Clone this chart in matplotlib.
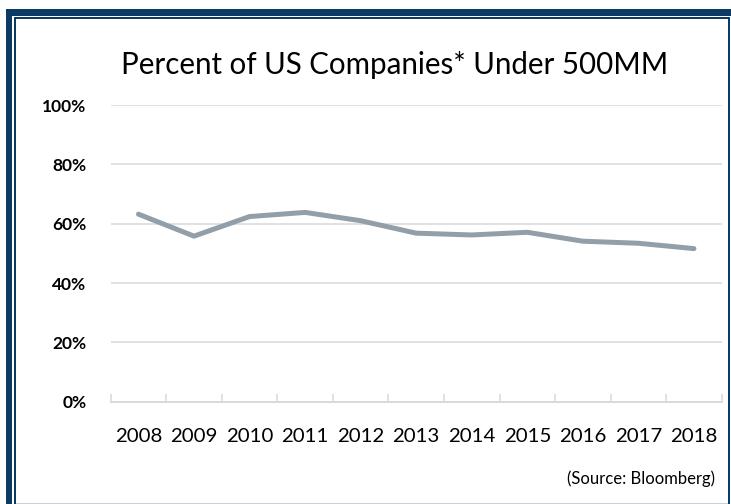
import matplotlib
matplotlib.use("Agg")
import matplotlib.pyplot as plt
from matplotlib.patches import Rectangle
from matplotlib.ticker import FixedLocator, PercentFormatter

years = ["2008", "2009", "2010", "2011", "2012", "2013", "2014", "2015", "2016", "2017", "2018"]
pct = [63.2, 55.8, 62.4, 63.8, 61.0, 56.8, 56.2, 57.1, 54.1, 53.4, 51.6]
yticks = [0, 20, 40, 60, 80, 100]
title = "Percent of US Companies* Under 500MM"
source = "(Source: Bloomberg)"

W, H = 731, 504
DPI = 100
FONT = "Lato"
fig = plt.figure(figsize=(W / DPI, H / DPI), dpi=DPI)
fig.patch.set_facecolor("white")

def fx(px):
    return px / W

def fy(py):
    return 1 - py / H

ax = fig.add_axes([fx(110.7), fy(401.7), fx(721.7) - fx(110.7), fy(105) - fy(401.7)])
x = list(range(len(years)))
ax.plot(x, pct, color="#929FA9", lw=3.6, solid_capstyle="round", solid_joinstyle="round", zorder=3)
ax.set_xlim(-0.5, len(years) - 0.5)
ax.set_ylim(0, 100)
ax.set_yticks(yticks)
ax.yaxis.set_major_formatter(PercentFormatter(decimals=0))
ax.set_xticks(x)
ax.set_xticklabels(years)
ax.xaxis.set_minor_locator(FixedLocator([i - 0.5 for i in range(len(years) + 1)]))
ax.tick_params(axis="x", which="major", length=0, pad=19)
ax.tick_params(axis="x", which="minor", direction="in", length=5.5, width=1.1, color="#D9D9D9")
ax.tick_params(axis="y", length=0, pad=17.5)
ax.grid(axis="y", color="#D9D9D9", lw=1.1)
ax.set_axisbelow(True)
for s in ["top", "right", "left"]:
    ax.spines[s].set_visible(False)
ax.spines["bottom"].set_color("#D9D9D9")
ax.spines["bottom"].set_linewidth(1.4)

renderer = fig.canvas.get_renderer()

def fit_size(text, target_px, weight="normal", base=12):
    t = fig.text(0, 0, text, fontsize=base, family=FONT, weight=weight)
    w = t.get_window_extent(renderer).width
    t.remove()
    return base * target_px / w

ysz = 12.5
xsz = fit_size("2008", 47)
tsz = fit_size(title, 546)
ssz = fit_size(source, 148)

for lab in ax.get_yticklabels():
    lab.set_fontfamily(FONT)
    lab.set_fontweight("bold")
    lab.set_fontsize(ysz)
    lab.set_color("black")
for lab in ax.get_xticklabels():
    lab.set_fontfamily(FONT)
    lab.set_fontsize(xsz)
    lab.set_color("black")

fig.text(fx(395), fy(65), title, ha="center", va="center", fontsize=tsz, family=FONT, color="black")
fig.text(fx(715), fy(479), source, ha="right", va="center", fontsize=ssz, family=FONT, color="black")

blue = "#0B3A63"
def rect(x0, y0, x1, y1, color):
    fig.add_artist(Rectangle((fx(x0), fy(y1)), fx(x1) - fx(x0), fy(y0) - fy(y1),
                             transform=fig.transFigure, facecolor=color, edgecolor="none", zorder=10))

rect(6, 9, W, 16, blue)
rect(6, 9, 12.3, H, blue)
rect(14, 17, 16, H, blue)
rect(14, 17, 729.5, 19, blue)
rect(728, 17, 730, H, blue)
rect(16, 502.5, 728, H, "#C8CFD6")

fig.savefig("out.png", dpi=DPI, facecolor="white")
